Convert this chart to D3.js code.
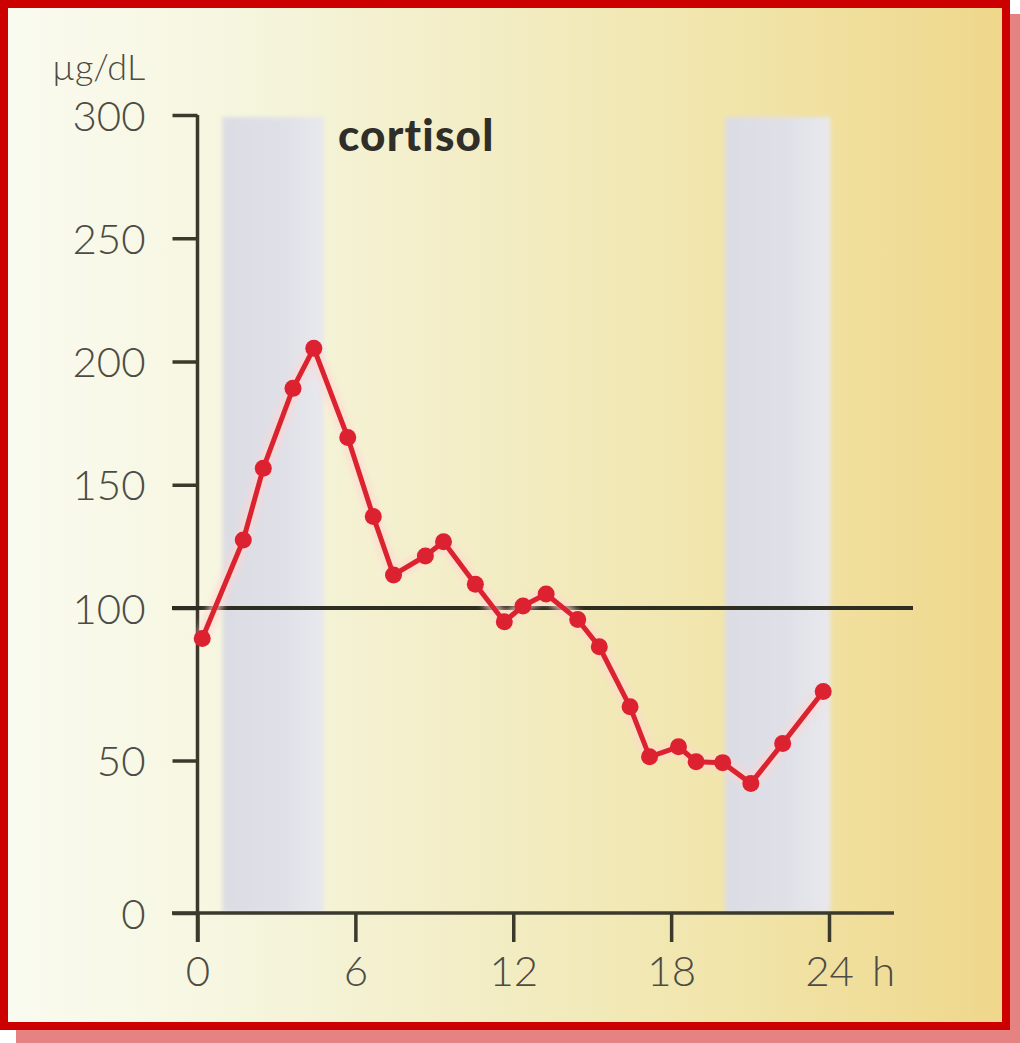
<!DOCTYPE html>
<html>
<head>
<meta charset="utf-8">
<script src="https://cdn.jsdelivr.net/npm/d3@7"></script>
<style>
  html, body { margin: 0; padding: 0; background: #ffffff; }
  svg { display: block; }
</style>
</head>
<body>
<div id="chart"></div>
<script>
// Cortisol over a 24-hour day (hours, µg/dL)
const hours = [0.18, 1.74, 2.50, 3.63, 4.42, 5.71, 6.68, 7.45, 8.66, 9.35, 10.56, 11.66,
               12.37, 13.25, 14.45, 15.27, 16.44, 17.18, 18.28, 18.95, 19.96, 21.03, 22.24, 23.78];
const cortisol = [90, 127.6, 156.7, 189.1, 205.4, 169.2, 137.1, 113.4, 121.1, 126.9, 109.6, 95.5,
                  100.8, 105.7, 96.2, 87.3, 67.6, 51.2, 54.5, 49.6, 49.3, 42.5, 55.6, 72.6];

// Night periods shaded in grey (start hour, end hour)
const nightStart = [0.95, 20.05];
const nightEnd = [4.8, 24.05];

const xTicks = [0, 6, 12, 18, 24];
const yTicks = [0, 50, 100, 150, 200, 250, 300];
const referenceLevel = 100;
const yUnit = "µg/dL";
const xUnit = "h";
const title = "cortisol";

const W = 1020, H = 1043;
const svg = d3.select("#chart").append("svg").attr("width", W).attr("height", H);
const defs = svg.append("defs");

const bg = defs.append("linearGradient").attr("id", "bg").attr("x1", "0").attr("x2", "1").attr("y1", "0").attr("y2", "0");
[["0%", "#fafbf0"], ["22%", "#f6f6e0"], ["45%", "#f3eec8"], ["72%", "#f1e5ab"], ["100%", "#efd78b"]]
  .forEach(([o, c]) => bg.append("stop").attr("offset", o).attr("stop-color", c));

const band = defs.append("linearGradient").attr("id", "band").attr("x1", "0").attr("x2", "1").attr("y1", "0").attr("y2", "0");
[["0%", "#dcdce4"], ["60%", "#e0e0e8"], ["100%", "#e8e8ee"]]
  .forEach(([o, c]) => band.append("stop").attr("offset", o).attr("stop-color", c));

const soft = defs.append("filter").attr("id", "soft").attr("x", "-10%").attr("y", "-2%").attr("width", "120%").attr("height", "104%");
soft.append("feGaussianBlur").attr("stdDeviation", 2);

const glow = defs.append("filter").attr("id", "glow").attr("x", "-5%").attr("y", "-5%").attr("width", "110%").attr("height", "110%");
glow.append("feGaussianBlur").attr("stdDeviation", 3);

// drop shadow and red frame
svg.append("rect").attr("x", 16).attr("y", 14).attr("width", 1004).attr("height", 1029).attr("fill", "#e58383");
svg.append("rect").attr("x", 4).attr("y", 4).attr("width", 1002).attr("height", 1022)
  .attr("fill", "url(#bg)").attr("stroke", "#cc0000").attr("stroke-width", 8);

// scales: the range 0–100 is stretched relative to 100–300
const x = d3.scaleLinear().domain([0, 24]).range([197.5, 829]);
const y = d3.scaleLinear().domain([0, 100, 300]).range([913, 608, 115]);

const g = svg.append("g");

// night bands
g.selectAll("rect.night").data(nightStart).join("rect")
  .attr("class", "night")
  .attr("x", (d) => x(d))
  .attr("y", y(300) + 2)
  .attr("width", (d, i) => x(nightEnd[i]) - x(d))
  .attr("height", y(0) - y(300) - 2)
  .attr("fill", "url(#band)")
  .attr("filter", "url(#soft)");

const axisColor = "#3a392b";
const labelColor = "#4d4c44";
const fontFam = "Lato, 'Open Sans', sans-serif";

// y axis
const yAxis = d3.axisLeft(y).tickValues(yTicks).tickSize(25).tickPadding(27).tickFormat(d3.format("d"));
const yg = g.append("g").attr("transform", `translate(${x(0)},0)`).call(yAxis);
yg.select(".domain").remove();
yg.selectAll(".tick line").attr("stroke", axisColor).attr("stroke-width", 3.5);
yg.selectAll(".tick text").attr("fill", labelColor).attr("font-family", fontFam)
  .attr("font-size", 42).attr("font-weight", 300).attr("dy", "0.36em");

// x axis
const xAxis = d3.axisBottom(x).tickValues(xTicks).tickSize(29).tickPadding(14).tickFormat(d3.format("d"));
const xg = g.append("g").attr("transform", `translate(0,${y(0)})`).call(xAxis);
xg.select(".domain").remove();
xg.selectAll(".tick line").attr("stroke", axisColor).attr("stroke-width", 3.5);
xg.selectAll(".tick text").attr("fill", labelColor).attr("font-family", fontFam)
  .attr("font-size", 42).attr("font-weight", 300);

// axis lines
g.append("line").attr("x1", x(0)).attr("x2", x(0)).attr("y1", y(300)).attr("y2", y(0) + 29)
  .attr("stroke", axisColor).attr("stroke-width", 3.5);
g.append("line").attr("x1", 172).attr("x2", 894).attr("y1", y(0)).attr("y2", y(0))
  .attr("stroke", axisColor).attr("stroke-width", 3.5);

// 100 µg/dL reference line
g.append("line").attr("x1", 172).attr("x2", 913).attr("y1", y(referenceLevel)).attr("y2", y(referenceLevel))
  .attr("stroke", "#2e2d22").attr("stroke-width", 4);

// units and title
g.append("text").attr("x", 52).attr("y", 80).attr("fill", labelColor).attr("font-family", fontFam)
  .attr("font-size", 36).attr("font-weight", 300).text(yUnit);
g.append("text").attr("x", 872).attr("y", 986).attr("fill", labelColor)
  .attr("font-family", fontFam).attr("font-size", 42).attr("font-weight", 300).text(xUnit);
g.append("text").attr("x", 338).attr("y", 151).attr("fill", "#2f2e28").attr("font-family", fontFam)
  .attr("font-size", 44).attr("font-weight", 900).attr("letter-spacing", 1.2).text(title);

// cortisol curve
const pts = hours.map((h, i) => [h, cortisol[i]]);
const line = d3.line().x((d) => x(d[0])).y((d) => y(d[1]));

g.append("path").datum(pts).attr("d", line).attr("fill", "none")
  .attr("stroke", "#ffd6d0").attr("stroke-width", 13).attr("stroke-linejoin", "round")
  .attr("opacity", 0.7).attr("filter", "url(#glow)");
g.append("path").datum(pts).attr("d", line).attr("fill", "none")
  .attr("stroke", "#db2330").attr("stroke-width", 5).attr("stroke-linejoin", "round");
g.selectAll("circle.pt").data(pts).join("circle")
  .attr("class", "pt")
  .attr("cx", (d) => x(d[0])).attr("cy", (d) => y(d[1])).attr("r", 8.5)
  .attr("fill", "#dc2230");
</script>
</body>
</html>
